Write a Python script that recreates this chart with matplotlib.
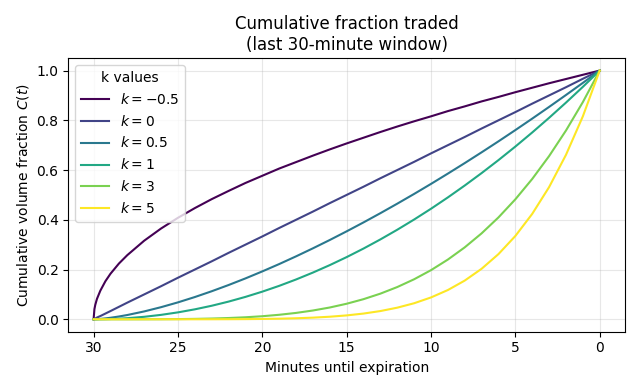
import matplotlib
matplotlib.use("Agg")
import matplotlib.pyplot as plt
import numpy as np

minutes = [30, 29.95, 29.9, 29.8, 29.6, 29.3, 29, 28.5, 28, 27, 26, 25, 24,
           23, 22, 21, 20, 19, 18, 17, 16, 15, 14, 13, 12, 11, 10, 9, 8, 7,
           6, 5, 4, 3, 2, 1, 0]

k_labels = ["-0.5", "0", "0.5", "1", "3", "5"]

c_km05 = [0.0, 0.041, 0.058, 0.082, 0.115, 0.153, 0.183, 0.224, 0.258, 0.316,
          0.365, 0.408, 0.447, 0.483, 0.516, 0.548, 0.577, 0.606, 0.632,
          0.658, 0.683, 0.707, 0.730, 0.753, 0.775, 0.796, 0.816, 0.837,
          0.856, 0.876, 0.894, 0.913, 0.931, 0.949, 0.966, 0.983, 1.0]
c_k0 = [0.0, 0.002, 0.003, 0.007, 0.013, 0.023, 0.033, 0.05, 0.067, 0.1,
        0.133, 0.167, 0.2, 0.233, 0.267, 0.3, 0.333, 0.367, 0.4, 0.433,
        0.467, 0.5, 0.533, 0.567, 0.6, 0.633, 0.667, 0.7, 0.733, 0.767, 0.8,
        0.833, 0.867, 0.9, 0.933, 0.967, 1.0]
c_k05 = [0.0, 0.0001, 0.0002, 0.0005, 0.0015, 0.0036, 0.0061, 0.0112, 0.0172,
         0.0316, 0.0487, 0.0680, 0.0894, 0.1127, 0.1377, 0.1643, 0.1925,
         0.2220, 0.2530, 0.2853, 0.3188, 0.3536, 0.3895, 0.4266, 0.4648,
         0.5040, 0.5443, 0.5857, 0.6280, 0.6713, 0.7155, 0.7607, 0.8068,
         0.8538, 0.9017, 0.9504, 1.0]
c_k1 = [0.0, 0.0, 0.0, 0.00004, 0.0002, 0.0005, 0.0011, 0.0025, 0.0044, 0.01,
        0.0178, 0.0278, 0.04, 0.0544, 0.0711, 0.09, 0.1111, 0.1344, 0.16,
        0.1878, 0.2178, 0.25, 0.2844, 0.3211, 0.36, 0.4011, 0.4444, 0.49,
        0.5378, 0.5878, 0.64, 0.6944, 0.7511, 0.81, 0.8711, 0.9344, 1.0]
c_k3 = [0.0, 0.0, 0.0, 0.0, 0.0, 0.0, 0.0, 0.0, 0.0, 0.0001, 0.0003, 0.0008,
        0.0016, 0.0030, 0.0051, 0.0081, 0.0123, 0.0181, 0.0256, 0.0353,
        0.0474, 0.0625, 0.0809, 0.1031, 0.1296, 0.1609, 0.1975, 0.2401,
        0.2892, 0.3455, 0.4096, 0.4823, 0.5642, 0.6561, 0.7588, 0.8730, 1.0]
c_k5 = [0.0, 0.0, 0.0, 0.0, 0.0, 0.0, 0.0, 0.0, 0.0, 0.0, 0.0, 0.0, 0.00006,
        0.00016, 0.00036, 0.00073, 0.00137, 0.0024, 0.0041, 0.0066, 0.0103,
        0.0156, 0.0230, 0.0331, 0.0467, 0.0645, 0.0878, 0.1176, 0.1556,
        0.2031, 0.2621, 0.3349, 0.4238, 0.5314, 0.6610, 0.8157, 1.0]

series = [c_km05, c_k0, c_k05, c_k1, c_k3, c_k5]
colors = plt.cm.viridis(np.linspace(0, 1, len(series)))

fig, ax = plt.subplots(figsize=(6.4, 3.9), dpi=100)
for lab, vals, col in zip(k_labels, series, colors):
    ax.plot(minutes, vals, color=col, lw=1.5, label=f"$k = {lab}$")

ax.invert_xaxis()
ax.set_xticks([30, 25, 20, 15, 10, 5, 0])
ax.set_xlabel("Minutes until expiration")
ax.set_ylabel("Cumulative volume fraction $C(t)$")
ax.set_title("Cumulative fraction traded\n(last 30-minute window)")
ax.grid(True, alpha=0.3)
ax.legend(title="k values", loc="upper left")

fig.tight_layout()
fig.savefig("out.png", dpi=100)
